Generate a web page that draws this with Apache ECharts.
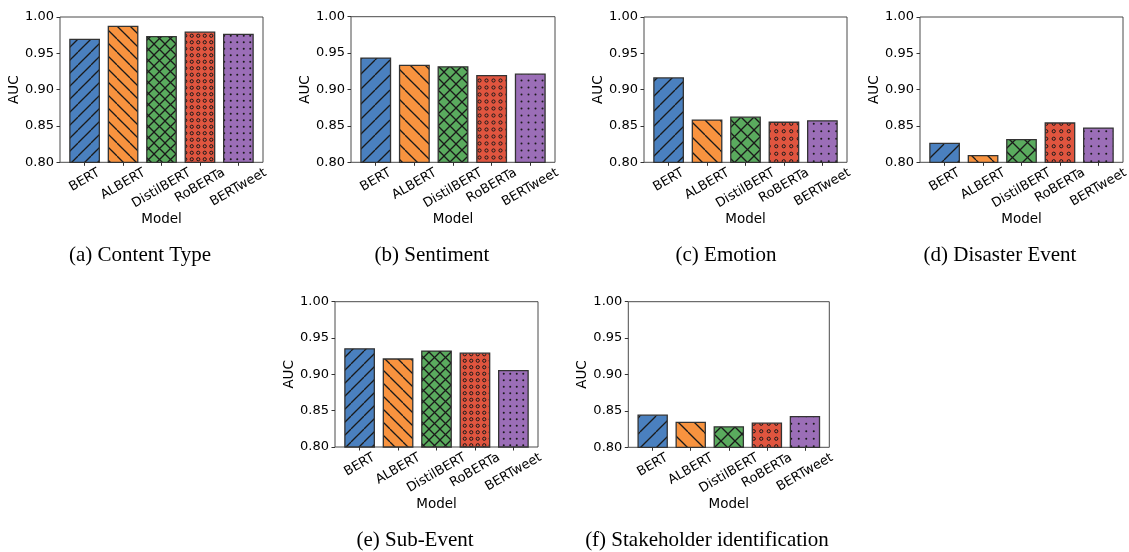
<!DOCTYPE html>
<html><head><meta charset="utf-8">
<script src="https://cdn.jsdelivr.net/npm/echarts@6/dist/echarts.min.js"></script>
<style>html,body{margin:0;padding:0;background:#fff}#c{width:1129px;height:552px}</style>
</head><body><div id="c"></div>
<script>
// ---- data ----
const models = ['BERT', 'ALBERT', 'DistilBERT', 'RoBERTa', 'BERTweet'];
const yTicks = [0.80, 0.85, 0.90, 0.95, 1.00];
const captions = ['(a) Content Type', '(b) Sentiment', '(c) Emotion', '(d) Disaster Event', '(e) Sub-Event', '(f) Stakeholder identification'];
const contentType = [0.970, 0.988, 0.974, 0.980, 0.977];
const sentiment = [0.944, 0.934, 0.932, 0.920, 0.922];
const emotion = [0.917, 0.859, 0.863, 0.856, 0.858];
const disasterEvent = [0.827, 0.810, 0.832, 0.855, 0.848];
const subEvent = [0.936, 0.922, 0.933, 0.930, 0.906];
const stakeholder = [0.845, 0.835, 0.829, 0.834, 0.843];
const panelValues = [contentType, sentiment, emotion, disasterEvent, subEvent, stakeholder];

// ---- layout / style ----
const panels = [
  {left: 60,    top: 17,    width: 203, height: 145.3, cap: [140, 255], diag: 13, cross: 11, dot: 6.5},
  {left: 351,   top: 16.7,  width: 204, height: 145.6, cap: [432, 255], diag: 15, cross: 12, dot: 7},
  {left: 644,   top: 17,    width: 203, height: 145.3, cap: [726, 255], diag: 15, cross: 13, dot: 7.7},
  {left: 920,   top: 17,    width: 203, height: 145.3, cap: [1000, 255], diag: 16, cross: 15, dot: 7.3},
  {left: 335,   top: 301.7, width: 203, height: 145.3, cap: [415, 540], diag: 13, cross: 11, dot: 6.5},
  {left: 628.3, top: 301.7, width: 201, height: 145.6, cap: [707, 540], diag: 16, cross: 14, dot: 7.5}
];
const colors = ['#4a80bf', '#f8933f', '#5aab5e', '#e0553f', '#9b6eb7'];
const hatchKinds = ['diagR', 'diagL', 'cross', 'ring', 'dot'];
const INK = '#1a1a1a';
const FS = 13;
const FF = '"DejaVu Sans", sans-serif';

function makePattern(kind, color, p) {
  const c = document.createElement('canvas');
  let size;
  if (kind === 'ring' || kind === 'dot') size = Math.round(p * 2); else size = p;
  c.width = size; c.height = size;
  const g = c.getContext('2d');
  g.fillStyle = color; g.fillRect(0, 0, size, size);
  g.strokeStyle = INK; g.fillStyle = INK; g.lineWidth = 1.3;
  const P = size;
  function diag(dir) {
    for (const k of [-P, 0, P]) {
      g.beginPath();
      if (dir > 0) { g.moveTo(k, P); g.lineTo(k + P, 0); }
      else { g.moveTo(k, 0); g.lineTo(k + P, P); }
      g.stroke();
    }
  }
  if (kind === 'diagR') diag(1);
  else if (kind === 'diagL') diag(-1);
  else if (kind === 'cross') { diag(1); diag(-1); }
  else {
    const s = size / 2;
    for (let i = 0; i < 2; i++) for (let j = 0; j < 2; j++) {
      const cx = s * i + s / 2, cy = s * j + s / 2;
      g.beginPath();
      if (kind === 'ring') { g.lineWidth = 1; g.arc(cx, cy, 1.6, 0, Math.PI * 2); g.stroke(); }
      else { g.arc(cx, cy, 1.0, 0, Math.PI * 2); g.fill(); }
    }
  }
  return c;
}

// label offsets so that rotated labels are centred under ticks (matplotlib style)
const mctx = document.createElement('canvas').getContext('2d');
mctx.font = FS + 'px "DejaVu Sans"';
const rich = {};
models.forEach((m, i) => {
  const w = mctx.measureText(m).width;
  const d = w / 4;
  rich['m' + i] = {fontFamily: FF, fontSize: FS, color: '#000', padding: [1.732 * d, d, 0, 0]};
});

const grids = [], xAxes = [], yAxes = [], series = [], graphics = [];
const xPos = models.map((m, i) => i);
panels.forEach((p, i) => {
  grids.push({left: p.left, top: p.top, width: p.width, height: p.height, show: true,
    borderColor: '#4a4a4a', borderWidth: 1, backgroundColor: '#fff', outerBoundsMode: 'none', containLabel: false});
  xAxes.push({gridIndex: i, type: 'value', min: -0.64, max: 4.64,
    axisLine: {show: false, onZero: false}, splitLine: {show: false},
    axisTick: {show: true, customValues: xPos, length: 3.5, lineStyle: {color: '#333', width: 1}},
    axisLabel: {customValues: xPos, rotate: 30, align: 'center', verticalAlign: 'middle', margin: 9.5,
      formatter: v => { const k = Math.round(v); return '{m' + k + '|' + models[k] + '}'; }, rich: rich},
    name: 'Model', nameLocation: 'middle', nameGap: 50,
    nameTextStyle: {fontFamily: FF, fontSize: FS + 0.5, color: '#000'}});
  yAxes.push({gridIndex: i, type: 'value', min: yTicks[0], max: yTicks[yTicks.length - 1], interval: 0.05,
    axisLine: {show: false, onZero: false}, splitLine: {show: false},
    axisTick: {show: true, length: 3.5, lineStyle: {color: '#333', width: 1}},
    axisLabel: {formatter: v => v.toFixed(2), margin: 6, fontFamily: FF, fontSize: FS, color: '#000'},
    name: 'AUC', nameLocation: 'middle', nameGap: 37,
    nameTextStyle: {fontFamily: FF, fontSize: FS + 0.5, color: '#000'}});
  const unit = p.width / 5.28;
  series.push({type: 'bar', xAxisIndex: i, yAxisIndex: i, barWidth: unit * 0.8, animation: false, silent: true,
    data: panelValues[i].map((v, j) => {
      const kind = hatchKinds[j];
      const per = kind === 'diagR' || kind === 'diagL' ? p.diag : kind === 'cross' ? p.cross : p.dot;
      return {value: [j, v], itemStyle: {color: {image: makePattern(kind, colors[j], per), repeat: 'repeat'},
        borderColor: '#333', borderWidth: 1.3}};
    })});
  graphics.push({type: 'text', x: p.cap[0], y: p.cap[1],
    style: {text: captions[i], font: '21px "Liberation Serif", serif', fill: '#000',
      textAlign: 'center', textVerticalAlign: 'middle', align: 'center', verticalAlign: 'middle'}});
});

const chart = echarts.init(document.getElementById('c'), null, {renderer: 'canvas'});
chart.setOption({animation: false, backgroundColor: '#fff', grid: grids, xAxis: xAxes, yAxis: yAxes, series: series, graphic: graphics});
</script></body></html>
